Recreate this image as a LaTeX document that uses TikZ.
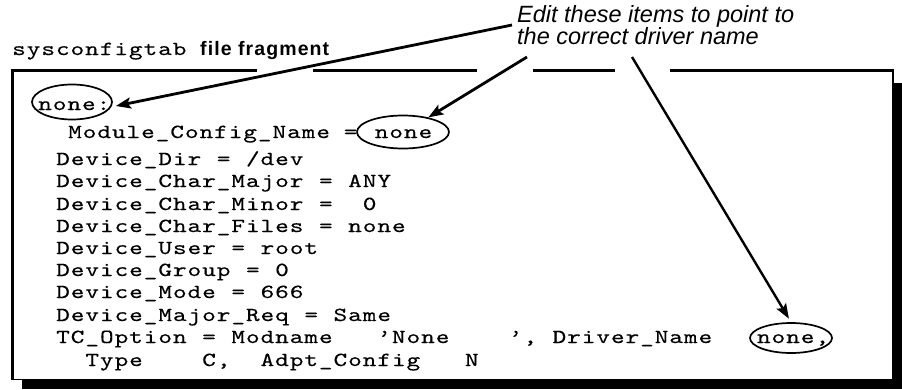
\documentclass[tikz,border=0pt]{standalone}
\usepackage{fontspec}
\setmainfont{Liberation Sans}
% spaced, widened typewriter face for the listing
\newfontfamily\cfgmono{lmmono10-regular.otf}[FakeStretch=1.3,LetterSpace=4.75,FakeBold=0.3]
\newfontfamily\subtitlefont{Liberation Sans}[LetterSpace=5.6]
\usetikzlibrary{arrows.meta,shapes.geometric}

\tikzset{
  cfgline/.style={font={\cfgmono\fontsize{20}{22}\selectfont}, anchor=base west, inner sep=0pt},
  notetext/.style={font={\itshape\fontsize{23.5}{22}\selectfont}, anchor=base west, inner sep=0pt},
  ring/.style={draw, ellipse, line width=1.7pt, inner sep=0pt},
  callout/.style={line width=2.8pt, -{Stealth[length=15pt,width=11pt,inset=3pt]}},
}

% a word of the listing, placed on the character grid (column #2, baseline #3)
\newcommand\cfgword[4]{\node[cfgline] (#1) at ({56+#2*14.6},#3) {#4};}

\begin{document}
\begin{tikzpicture}[x=1pt,y=-1pt]
\useasboundingbox (0,0) rectangle (902,389);

% caption above the listing
\node[cfgline] (title) at (12,55) {sysconfigtab};
\node[anchor=base west, inner sep=0pt, font={\subtitlefont\bfseries\fontsize{19.5}{20}\selectfont}] (titlesub) at (200,55) {file fragment};

% listing frame with its drop shadow
\fill[black] (22,83) rectangle (902,389);
\fill[white] (12,70) rectangle (893,380);
\draw[line width=3pt] (12.5,69) -- (12.5,380);
\draw[line width=1.6pt] (12,379.5) -- (893,379.5) -- (893,70);
\draw[line width=2.6pt] (11,70.5) -- (257,70.5)
                        (313,70.5) -- (477,70.5)
                        (533,70.5) -- (615,70.5)
                        (670,70.5) -- (894,70.5);

% listing lines
\cfgword{l0}{-1.23}{110}{none:}
\cfgword{l1a}{0.82}{138}{Module\_Config\_Name}
\cfgword{l1b}{19.7}{138}{=}
\cfgword{l1c}{21.82}{138}{none}
\cfgword{l2a}{0}{165}{Device\_Dir}
\cfgword{l2b}{11}{165}{=}
\cfgword{l2c}{13}{165}{/dev}
\cfgword{l3a}{0}{187}{Device\_Char\_Major}
\cfgword{l3b}{18}{187}{=}
\cfgword{l3c}{20}{187}{ANY}
\cfgword{l4a}{0}{210}{Device\_Char\_Minor}
\cfgword{l4b}{18}{210}{=}
\cfgword{l4c}{21}{210}{0}
\cfgword{l5a}{0}{232}{Device\_Char\_Files}
\cfgword{l5b}{18}{232}{=}
\cfgword{l5c}{20}{232}{none}
\cfgword{l6a}{0}{254}{Device\_User}
\cfgword{l6b}{12}{254}{=}
\cfgword{l6c}{14}{254}{root}
\cfgword{l7a}{0}{276}{Device\_Group}
\cfgword{l7b}{13}{276}{=}
\cfgword{l7c}{15}{276}{0}
\cfgword{l8a}{0}{298}{Device\_Mode}
\cfgword{l8b}{12}{298}{=}
\cfgword{l8c}{14}{298}{666}
\cfgword{l9a}{0}{321}{Device\_Major\_Req}
\cfgword{l9b}{17}{321}{=}
\cfgword{l9c}{19}{321}{Same}
\cfgword{l10a}{0}{343}{TC\_Option}
\cfgword{l10b}{10}{343}{=}
\cfgword{l10c}{12}{343}{Modname}
\cfgword{l10d}{22}{343}{’None}
\cfgword{l10e}{31}{343}{’,}
\cfgword{l10f}{34}{343}{Driver\_Name}
\cfgword{l10g}{48}{343}{none,}
\cfgword{l11a}{2}{366}{Type}
\cfgword{l11b}{10}{366}{C,}
\cfgword{l11c}{14}{366}{Adpt\_Config}
\cfgword{l11d}{28}{366}{N}

% rings round the values to edit
\node[ring, minimum width=80pt, minimum height=35pt] (r0) at (72,102) {};
\node[ring, minimum width=92pt, minimum height=33pt] (r1) at (403,132) {};
\node[ring, minimum width=82pt, minimum height=30pt] (r2) at (791,338) {};

% callout note
\node[notetext] (note1) at (517,22) {Edit these items to point to};
\node[notetext] (note2) at (517,44) {the correct driver name};
\coordinate (s0) at (512,25);
\coordinate (s1) at (527,57);
\coordinate (s2) at (632,57);

\draw[callout] (s0) -- ([xshift=3pt,yshift=-4pt]r0.east);
\draw[callout] (s1) -- (r1.30);
\draw[callout, line width=2.4pt, shorten >=4pt] (s2) -- (r2.north);
\end{tikzpicture}
\end{document}
